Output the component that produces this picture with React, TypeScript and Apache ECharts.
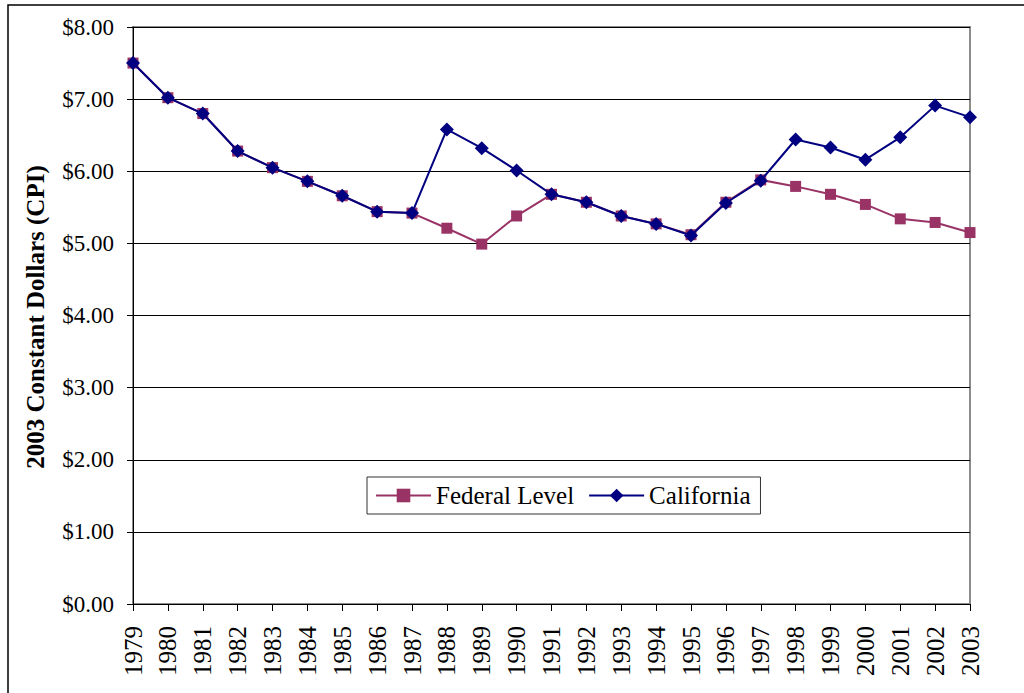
import React, { useEffect, useRef } from "react";
import * as echarts from "echarts";

const years = ["1979","1980","1981","1982","1983","1984","1985","1986","1987","1988","1989","1990","1991","1992","1993","1994","1995","1996","1997","1998","1999","2000","2001","2002","2003"];
const federal = [7.5,7.02,6.8,6.28,6.05,5.86,5.66,5.44,5.42,5.21,4.99,5.38,5.68,5.57,5.38,5.27,5.12,5.57,5.88,5.79,5.68,5.54,5.34,5.29,5.15];
const california = [7.5,7.02,6.8,6.28,6.05,5.86,5.66,5.44,5.42,6.58,6.32,6.01,5.68,5.57,5.38,5.27,5.11,5.56,5.87,6.44,6.33,6.16,6.47,6.91,6.75];
const seriesNames = ["Federal Level", "California"];
const yTitle = "2003 Constant Dollars (CPI)";

const FONT = "'Liberation Serif', 'Times New Roman', serif";

export default function App() {
  const ref = useRef<HTMLDivElement>(null);
  useEffect(() => {
    if (!ref.current) return;
    const chart = echarts.init(ref.current, null, { renderer: "svg" });
    chart.setOption({
      animation: false,
      backgroundColor: "#ffffff",
      grid: { left: 133, right: 54, top: 27, bottom: 89, show: true, borderColor: "#8c8c8c", borderWidth: 2, backgroundColor: "transparent" },
      graphic: [
        { type: "rect", shape: { x: 8, y: 5, width: 1100, height: 800 }, style: { fill: "none", stroke: "#000", lineWidth: 1.5 }, silent: true, z: -1 },
        { type: "text", x: 35, y: 317, rotation: Math.PI / 2, style: { text: yTitle, font: `bold 25px ${FONT}`, fill: "#000", align: "center", verticalAlign: "middle" } },
      ],
      legend: {
        left: 367, top: 477,
        orient: "horizontal",
        data: seriesNames,
        backgroundColor: "#fff",
        borderColor: "#333",
        borderWidth: 1,
        padding: [6, 10, 6, 8],
        itemWidth: 55,
        itemHeight: 17,
        itemGap: 14,
        textStyle: { fontFamily: FONT, fontSize: 25, color: "#000" },
      },
      xAxis: {
        type: "category",
        data: years,
        boundaryGap: false,
        axisLine: { lineStyle: { color: "#000", width: 1 } },
        axisTick: { show: true, length: 7, inside: false, alignWithLabel: true, lineStyle: { color: "#000" } },
        axisLabel: { rotate: 90, margin: 22, interval: 0, fontFamily: FONT, fontSize: 25, color: "#000" },
        splitLine: { show: false },
      },
      yAxis: {
        type: "value",
        min: 0, max: 8, interval: 1,
        axisLine: { show: true, lineStyle: { color: "#000", width: 1 } },
        axisTick: { show: true, length: 6, lineStyle: { color: "#000" } },
        axisLabel: { margin: 19, fontFamily: FONT, fontSize: 23, color: "#000", formatter: (v: number) => "$" + v.toFixed(2) },
        splitLine: { show: true, lineStyle: { color: "#000", width: 1 } },
      },
      series: [
        {
          name: seriesNames[0], type: "line", data: federal,
          symbol: "rect", symbolSize: 11,
          lineStyle: { color: "#993366", width: 2 },
          itemStyle: { color: "#993366" },
          z: 2,
        },
        {
          name: seriesNames[1], type: "line", data: california,
          symbol: "diamond", symbolSize: 14,
          lineStyle: { color: "#000080", width: 2 },
          itemStyle: { color: "#000080" },
          z: 3,
        },
      ],
    });
    return () => chart.dispose();
  }, []);
  return <div ref={ref} style={{ position: "fixed", left: 0, top: 0, width: 1024, height: 693 }} />;
}
